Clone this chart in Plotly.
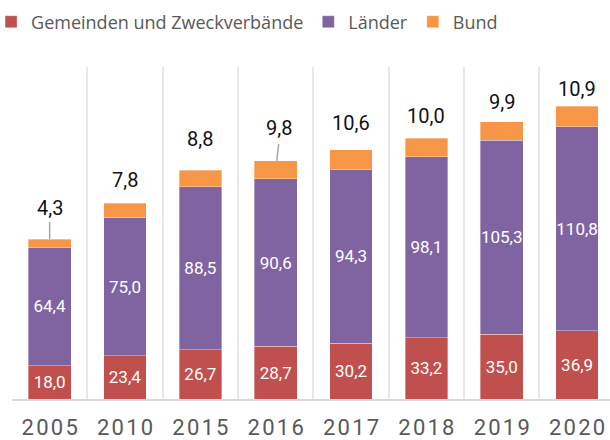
import plotly.graph_objects as go

# ---- data ----
years = ["2005", "2010", "2015", "2016", "2017", "2018", "2019", "2020"]
gemeinden = [18.0, 23.4, 26.7, 28.7, 30.2, 33.2, 35.0, 36.9]
laender = [64.4, 75.0, 88.5, 90.6, 94.3, 98.1, 105.3, 110.8]
bund = [4.3, 7.8, 8.8, 9.8, 10.6, 10.0, 9.9, 10.9]
series_names = ["Gemeinden und Zweckverbände", "Länder", "Bund"]

# ---- styling / label placement (pixels) ----
colors = ["#C0504D", "#8064A2", "#F79646"]
bund_label_shift_px = [31, 23, 31, 33, 27, 22, 20, 17]
bund_label_xshift_px = [0, 0, 0, 3, 0, 0, 0, 0]
leader_years = {"2005": (0, 0, 0, 17), "2016": (1, 0, 3, 17)}

SP = "\u200a"
xcats = [SP.join(list(y)) for y in years]


def fmt(v):
    return f"{v:.1f}".replace(".", ",")


fig = go.Figure()
for name, vals, col, show_text in [
    (series_names[0], gemeinden, colors[0], True),
    (series_names[1], laender, colors[1], True),
    (series_names[2], bund, colors[2], False),
]:
    fig.add_trace(go.Bar(
        x=xcats, y=vals, name=name,
        marker=dict(color=col, line=dict(color="rgba(255,255,255,0.7)", width=0.5)),
        text=[fmt(v) for v in vals] if show_text else None,
        textposition="inside" if show_text else "none",
        insidetextanchor="middle",
        textangle=0,
        constraintext="none",
        textfont=dict(family="Roboto", size=17, color="white"),
        hoverinfo="skip",
        width=0.567,
    ))

totals = [g + l + b for g, l, b in zip(gemeinden, laender, bund)]
for i, (xc, tot, b) in enumerate(zip(xcats, totals, bund)):
    fig.add_annotation(
        x=xc, y=tot, text=fmt(b), showarrow=False,
        xref="x", yref="y", yanchor="middle",
        yshift=bund_label_shift_px[i], xshift=bund_label_xshift_px[i],
        font=dict(family="Roboto", size=20, color="#111111"),
    )
    if years[i] in leader_years:
        x0, y0, x1, y1 = leader_years[years[i]]
        fig.add_shape(
            type="line", xref="x", yref="y",
            xsizemode="pixel", ysizemode="pixel",
            xanchor=i, yanchor=tot,
            x0=x0, x1=x1, y0=y0, y1=y1,
            line=dict(color="#a6a6a6", width=1.5),
        )

fig.update_layout(
    width=610, height=440,
    margin=dict(l=12, r=0, t=67, b=41, autoexpand=False),
    barmode="stack",
    plot_bgcolor="white",
    paper_bgcolor="white",
    showlegend=True,
    legend=dict(
        orientation="h", x=-0.035, xanchor="left",
        y=1.1355, yanchor="middle",
        font=dict(family="Open Sans", size=18, color="#595959"),
        traceorder="normal",
        itemclick=False, itemdoubleclick=False,
    ),
    xaxis=dict(
        type="category",
        range=[-0.5, 7.437],
        tickson="boundaries",
        showgrid=True, gridcolor="#e8e8e8", gridwidth=1.5,
        ticks="",
        showline=True, linecolor="#d9d9d9", linewidth=2,
        tickfont=dict(family="Roboto", size=22, color="#595959"),
        ticklabelstandoff=8,
        fixedrange=True,
    ),
    yaxis=dict(
        range=[0, 180], visible=False, showgrid=False, zeroline=False,
        fixedrange=True,
    ),
)

fig.write_html(
    "out.html",
    config={"displayModeBar": False},
    post_script="document.body.style.margin='0';document.body.style.overflow='hidden';",
)
